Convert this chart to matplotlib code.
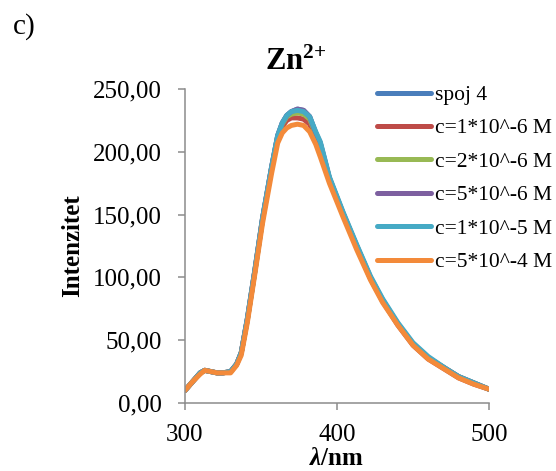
import matplotlib
matplotlib.use("Agg")
import matplotlib.pyplot as plt
from matplotlib.ticker import FuncFormatter

plt.rcParams['font.family'] = ['Liberation Serif', 'DejaVu Serif']
plt.rcParams['mathtext.fontset'] = 'custom'
plt.rcParams['mathtext.rm'] = 'Liberation Serif'
plt.rcParams['mathtext.it'] = 'Liberation Serif:italic'
plt.rcParams['mathtext.bf'] = 'Liberation Serif:bold'
plt.rcParams['mathtext.bfit'] = 'Liberation Serif:bold:italic'

wavelength = [300, 305, 310, 313, 317, 321, 325, 330, 334, 337, 341, 346, 351, 357, 361, 364,
              367, 370, 374, 378, 382, 386, 389, 395, 404, 413, 422, 430, 440, 450, 460, 472,
              480, 490, 500]

spoj4 = [10, 17, 24, 26, 25, 24, 24, 25, 31, 40, 67, 106, 147, 188, 213, 223,
         229, 232, 234, 233, 228, 215, 207, 179, 151, 125, 100, 82, 63, 47, 36, 27,
         21, 16, 11]
c1e6 = [10, 17, 24, 26, 25, 24, 24, 25, 31, 40, 66, 105, 146, 187, 211, 220,
        225, 227, 227, 226, 222, 210, 202, 178, 150, 124, 99, 81, 62, 46, 35, 26,
        20, 15, 11]
c2e6 = [10, 17, 24, 26, 25, 24, 24, 25, 31, 40, 66, 105, 146, 187, 212, 222,
        228, 230, 231, 230, 226, 214, 205, 179, 151, 125, 100, 82, 63, 47, 36, 27,
        21, 16, 11]
c5e6 = [10, 17, 24, 26, 25, 24, 24, 25, 31, 40, 67, 106, 147, 188, 213, 223,
        229, 232, 234, 233, 228, 215, 207, 179, 151, 125, 100, 82, 63, 47, 36, 27,
        21, 16, 11]
c1e5 = [10, 17, 24, 26, 25, 24, 24, 25, 31, 40, 67, 106, 147, 188, 213, 223,
        229, 232, 233, 232, 228, 216, 208, 180, 152, 126, 101, 83, 64, 48, 37, 27,
        21, 16, 11]
c5e4 = [10, 17, 23, 26, 25, 24, 24, 24, 30, 38, 64, 103, 143, 183, 207, 215,
        219, 221, 222, 221, 216, 206, 196, 175, 148, 122, 98, 80, 62, 46, 35, 26,
        20, 15, 11]

labels = ['spoj 4', 'c=1*10^-6 M', 'c=2*10^-6 M', 'c=5*10^-6 M', 'c=1*10^-5 M', 'c=5*10^-4 M']
series = [spoj4, c1e6, c2e6, c5e6, c1e5, c5e4]
colors = ['#4A7EBB', '#BE4B48', '#98B954', '#7D60A0', '#46AAC5', '#F38A3A']

yticks = [0, 50, 100, 150, 200, 250]
xticks = [300, 400, 500]

fig = plt.figure(figsize=(5.56, 4.71), dpi=100)
ax = fig.add_axes([185/556, 1-403/471, (489-185)/556, (403-89)/471])

for y, lab, col in zip(series, labels, colors):
    ax.plot(wavelength, y, color=col, lw=3.6, label=lab, solid_capstyle='round',
            solid_joinstyle='round')

ax.set_xlim(300, 500)
ax.set_ylim(0, 250)
ax.set_xticks(xticks)
ax.set_yticks(yticks)
ax.yaxis.set_major_formatter(FuncFormatter(lambda v, p: f"{v:.2f}".replace('.', ',')))

for s in ['top', 'right']:
    ax.spines[s].set_visible(False)
for s in ['left', 'bottom']:
    ax.spines[s].set_color('#8c8c8c')
    ax.spines[s].set_linewidth(1.1)
ax.tick_params(axis='both', direction='out', length=5, width=1.1, color='#8c8c8c',
               labelsize=18, labelcolor='black')
ax.tick_params(axis='y', pad=12)
ax.tick_params(axis='x', pad=10)

ax.set_xlabel(r'$\mathbfit{\lambda}$/nm', fontsize=18, fontweight='bold', labelpad=1)
ax.set_ylabel('Intenzitet', fontsize=18, fontweight='bold', labelpad=6)

fig.text(296/556, 1-62/471, r'$\mathbf{Zn}^{\mathbf{2{+}}}$', fontsize=22, ha='center', va='center')
fig.text(13/556, 1-27/471, 'c)', fontsize=21, ha='left', va='center')

leg = fig.legend(loc='upper left', bbox_to_anchor=(377/556, 1-85/471), frameon=False,
                 fontsize=15.5, handlelength=2.5, handletextpad=0.2, labelspacing=0.62,
                 borderpad=0, borderaxespad=0)

fig.savefig('out.png', dpi=100)
